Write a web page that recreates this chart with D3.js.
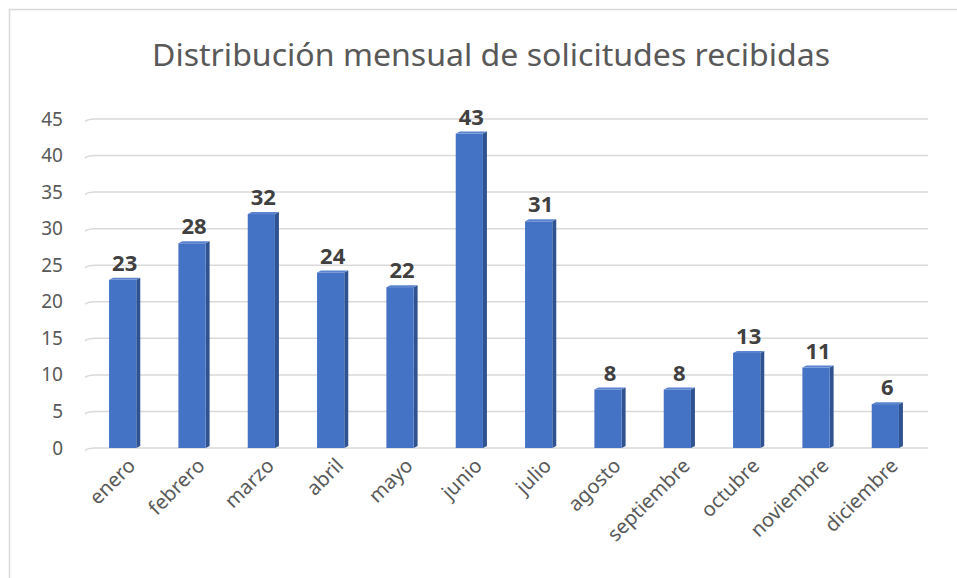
<!DOCTYPE html>
<html>
<head>
<meta charset="utf-8">
<script src="https://cdn.jsdelivr.net/npm/d3@7"></script>
<style>
  body { margin: 0; background: #fff; }
  text { font-family: "Noto Sans", "Open Sans", sans-serif; }
</style>
</head>
<body>
<div id="chart"></div>
<script>
// datos del gráfico
const months = ["enero", "febrero", "marzo", "abril", "mayo", "junio",
  "julio", "agosto", "septiembre", "octubre", "noviembre", "diciembre"];
const requests = [23, 28, 32, 24, 22, 43, 31, 8, 8, 13, 11, 6];
const yTicks = [0, 5, 10, 15, 20, 25, 30, 35, 40, 45];
const title = "Distribución mensual de solicitudes recibidas";

const width = 957, height = 578;
const plotLeft = 90, plotRight = 922, plotTop = 119, plotBottom = 448;
const sideW = 4, depth = 2;

const svg = d3.select("#chart").append("svg")
  .attr("width", width)
  .attr("height", height);

// borde del área del gráfico
svg.append("rect")
  .attr("x", 9.5).attr("y", 9.5)
  .attr("width", 970).attr("height", 620)
  .attr("fill", "none")
  .attr("stroke", "#d9d9d9")
  .attr("stroke-width", 1.5);

// título
svg.append("text")
  .attr("x", 491).attr("y", 66)
  .attr("text-anchor", "middle")
  .attr("fill", "#595959")
  .style("font-size", "31px")
  .attr("textLength", 678)
  .attr("lengthAdjust", "spacingAndGlyphs")
  .text(title);

//============ escalas ============
const x = d3.scaleBand()
  .domain(months)
  .range([plotLeft, plotRight])
  .paddingInner(0.55)
  .paddingOuter(0.275);

const y = d3.scaleLinear()
  .domain([0, 45])
  .range([plotBottom, plotTop]);

//============ grelha (com pequeno efeito 3D à esquerda) ============
const grid = svg.append("g");
yTicks.forEach(t => {
  grid.append("path")
    .attr("d", `M85,${y(t) + 2.5} Q88,${y(t)} 95,${y(t)} L928,${y(t)}`)
    .attr("fill", "none")
    .attr("stroke", "#d9d9d9")
    .attr("stroke-width", 1.5);
});

// eixo Y (só os textos)
svg.append("g")
  .attr("transform", `translate(${plotLeft - 27},0)`)
  .call(d3.axisLeft(y).tickValues(yTicks).tickSize(0).tickPadding(0))
  .call(g => g.select(".domain").remove())
  .call(g => g.selectAll("text")
    .attr("fill", "#595959")
    .style("font-size", "19px")
    .style("font-family", "Noto Sans, sans-serif"));

//============ barras 3D ============
const bw = x.bandwidth() - sideW;
const bars = svg.append("g").selectAll("g")
  .data(months.map((m, i) => ({ month: m, value: requests[i] })))
  .join("g");

// face lateral
bars.append("path")
  .attr("d", d => {
    const x0 = x(d.month) + bw, y0 = y(d.value);
    return `M${x0},${y0} L${x0 + sideW},${y0 - depth} L${x0 + sideW},${plotBottom - depth} L${x0},${plotBottom} Z`;
  })
  .attr("fill", "#2f5291");

// topo
bars.append("path")
  .attr("d", d => {
    const x0 = x(d.month), y0 = y(d.value);
    return `M${x0},${y0} L${x0 + sideW},${y0 - depth} L${x0 + bw + sideW},${y0 - depth} L${x0 + bw},${y0} Z`;
  })
  .attr("fill", "#5a84cf");

// frente
bars.append("rect")
  .attr("x", d => x(d.month))
  .attr("y", d => y(d.value))
  .attr("width", bw)
  .attr("height", d => plotBottom - y(d.value))
  .attr("fill", "#4472c4");

// rótulos de dados
bars.append("text")
  .attr("x", d => x(d.month) + x.bandwidth() / 2)
  .attr("y", d => y(d.value) - 9)
  .attr("text-anchor", "middle")
  .attr("fill", "#404040")
  .style("font-size", "22px")
  .style("font-weight", "bold")
  .text(d => d.value);

//============ eixo X ============
svg.append("g").selectAll("text")
  .data(months)
  .join("text")
  .attr("transform", d => `translate(${x(d) + x.bandwidth() / 2 + 7},${plotBottom + 14}) rotate(-45)`)
  .attr("text-anchor", "end")
  .attr("dy", "0.35em")
  .attr("fill", "#595959")
  .style("font-size", "20px")
  .text(d => d);
</script>
</body>
</html>
